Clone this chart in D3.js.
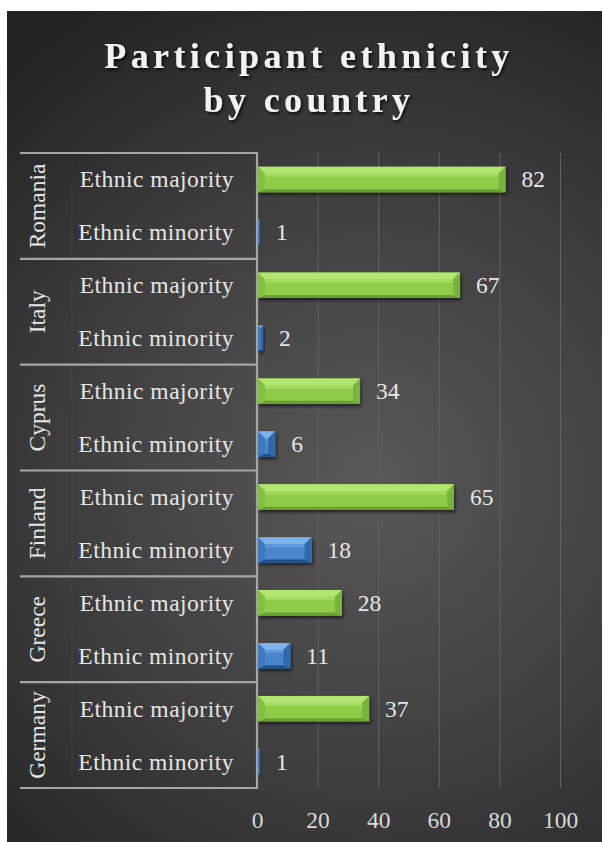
<!DOCTYPE html>
<html>
<head>
<meta charset="utf-8">
<script src="https://cdn.jsdelivr.net/npm/d3@7"></script>
<style>
  html, body { margin: 0; padding: 0; background: #ffffff; }
  svg { display: block; }
  text { font-family: "Liberation Serif", "Times New Roman", serif; }
</style>
</head>
<body>
<svg id="chart" width="602" height="842"></svg>
<script>
// Participant ethnicity by country
const countries = ["Romania", "Italy", "Cyprus", "Finland", "Greece", "Germany"];
const groups = ["Ethnic majority", "Ethnic minority"];
const majority = [82, 67, 34, 65, 28, 37];
const minority = [1, 2, 6, 18, 11, 1];
const tickValues = [0, 20, 40, 60, 80, 100];
const titleLines = ["Participant ethnicity", "by country"];

(function () {
const svg = d3.select("#chart");
const defs = svg.append("defs");

// dark radial background
const bg = defs.append("radialGradient").attr("id", "bgGrad")
  .attr("gradientUnits", "userSpaceOnUse")
  .attr("cx", 370).attr("cy", 480).attr("r", 560);
bg.append("stop").attr("offset", "0%").attr("stop-color", "#595959");
bg.append("stop").attr("offset", "55%").attr("stop-color", "#3d3d3d");
bg.append("stop").attr("offset", "100%").attr("stop-color", "#222222");

const shadow = defs.append("filter").attr("id", "barShadow")
  .attr("x", "-10%").attr("y", "-30%").attr("width", "130%").attr("height", "180%");
shadow.append("feDropShadow").attr("dx", 1.5).attr("dy", 2.5)
  .attr("stdDeviation", 1.6).attr("flood-color", "#000").attr("flood-opacity", 0.55);

const titleShadow = defs.append("filter").attr("id", "titleShadow")
  .attr("x", "-10%").attr("y", "-30%").attr("width", "130%").attr("height", "180%");
titleShadow.append("feDropShadow").attr("dx", 1.5).attr("dy", 2)
  .attr("stdDeviation", 1.5).attr("flood-color", "#000").attr("flood-opacity", 0.8);

svg.append("rect").attr("x", 7).attr("y", 11).attr("width", 595).attr("height", 831)
  .attr("fill", "url(#bgGrad)");

// title
svg.append("g").attr("filter", "url(#titleShadow)")
  .selectAll("text").data(titleLines).join("text")
  .attr("x", 309).attr("y", (d, i) => 68 + i * 44)
  .attr("text-anchor", "middle")
  .attr("font-size", 36).attr("font-weight", "bold")
  .attr("letter-spacing", 4.4)
  .attr("fill", "#f2f2f2")
  .text(d => d);

// rows: one per country/group pair
const rows = [];
countries.forEach((c, i) => {
  rows.push({ country: c, group: groups[0], value: majority[i], kind: "maj" });
  rows.push({ country: c, group: groups[1], value: minority[i], kind: "min" });
});
const rowKey = d => d.country + "|" + d.group;

const plotTop = 153, plotBottom = 788, plotLeft = 257, plotRight = 560;
const x = d3.scaleLinear().domain([0, 100]).range([plotLeft, plotRight]);
const yRow = d3.scaleBand().domain(rows.map(rowKey)).range([plotTop, plotBottom])
  .paddingInner(0.52).paddingOuter(0.26);
const yCountry = d3.scaleBand().domain(countries).range([plotTop, plotBottom]).padding(0);

// gridlines
svg.append("g").attr("transform", `translate(0,${plotBottom})`)
  .call(d3.axisBottom(x).tickValues(tickValues.slice(1)).tickSize(-(plotBottom - plotTop)).tickFormat(""))
  .call(g => g.select(".domain").remove())
  .call(g => g.selectAll("line").attr("stroke", "#626262").attr("stroke-width", 1));

// tick labels
svg.append("g").attr("transform", `translate(0,${plotBottom})`)
  .call(d3.axisBottom(x).tickValues(tickValues).tickSize(0).tickPadding(0).tickFormat(d3.format("d")))
  .call(g => g.select(".domain").remove())
  .call(g => g.selectAll("text")
    .attr("dy", null).attr("y", 40)
    .attr("font-family", "Liberation Serif, serif")
    .attr("font-size", 23.5).attr("fill", "#d9d9d9"));

// category box: country separators
const bounds = countries.map(c => yCountry(c)).concat([plotBottom]);
svg.append("line").attr("x1", 72).attr("x2", 72).attr("y1", plotTop).attr("y2", plotBottom)
  .attr("stroke", "rgba(255,255,255,0.05)").attr("stroke-width", 1);
svg.append("g").selectAll("line").data(bounds).join("line")
  .attr("x1", 20).attr("x2", plotLeft).attr("y1", d => d).attr("y2", d => d)
  .attr("stroke", "#a6a6a6").attr("stroke-width", 2.2);
svg.append("line").attr("x1", plotLeft).attr("x2", plotLeft).attr("y1", plotTop - 1).attr("y2", plotBottom + 1)
  .attr("stroke", "#a6a6a6").attr("stroke-width", 2.2);

// country labels (rotated)
svg.append("g").selectAll("text").data(countries).join("text")
  .attr("transform", d => `translate(45,${yCountry(d) + yCountry.bandwidth() / 2}) rotate(-90)`)
  .attr("text-anchor", "middle")
  .attr("font-size", 23.5).attr("fill", "#e6e6e6")
  .text(d => d);

// group labels
svg.append("g").selectAll("text").data(rows).join("text")
  .attr("x", 234)
  .attr("y", d => yRow(rowKey(d)) + yRow.bandwidth() / 2 + 8)
  .attr("text-anchor", "end")
  .attr("font-size", 23.5).attr("letter-spacing", 0.5).attr("fill", "#e6e6e6")
  .text(d => d.group);

// bevelled bars
const palette = {
  maj: { base: "#8fcd4a", top: "#b3e66f", bottom: "#6a9f33", left: "#83c043", right: "#79b23d", hi: "#a3dc5f" },
  min: { base: "#4a86cb", top: "#7eb2ea", bottom: "#234f86", left: "#4079bd", right: "#336aa9", hi: "#5f99da" }
};

const bars = svg.append("g").selectAll("g").data(rows).join("g")
  .attr("filter", "url(#barShadow)");

bars.each(function (d) {
  const g = d3.select(this);
  const c = palette[d.kind];
  const x0 = x(0) + 1, x1 = x(d.value);
  const y0 = yRow(rowKey(d)), y1 = y0 + yRow.bandwidth();
  const w = x1 - x0;
  const bs = Math.min(7, w / 2), bt = Math.min(7, w / 2), bb = Math.min(3, w / 2);
  g.append("rect").attr("x", x0).attr("y", y0).attr("width", w).attr("height", y1 - y0).attr("fill", c.base);
  const poly = (pts, fill) => g.append("polygon")
    .attr("points", pts.map(p => p.join(",")).join(" ")).attr("fill", fill);
  poly([[x0, y0], [x1, y0], [x1 - bs, y0 + bt], [x0 + bs, y0 + bt]], c.top);
  poly([[x0, y1], [x1, y1], [x1 - bs, y1 - bb], [x0 + bs, y1 - bb]], c.bottom);
  poly([[x0, y0], [x0 + bs, y0 + bt], [x0 + bs, y1 - bb], [x0, y1]], c.left);
  poly([[x1, y0], [x1 - bs, y0 + bt], [x1 - bs, y1 - bb], [x1, y1]], c.right);
  if (w > 2 * bs) {
    g.append("rect").attr("x", x0 + bs).attr("y", y0 + bt).attr("width", w - 2 * bs)
      .attr("height", 3).attr("fill", c.hi);
  }
});

// value labels
svg.append("g").selectAll("text").data(rows).join("text")
  .attr("x", d => x(d.value) + 16)
  .attr("y", d => yRow(rowKey(d)) + yRow.bandwidth() / 2 + 8)
  .attr("font-size", 23.5).attr("fill", "#e6e6e6")
  .text(d => d.value);
})();
</script>
</body>
</html>
